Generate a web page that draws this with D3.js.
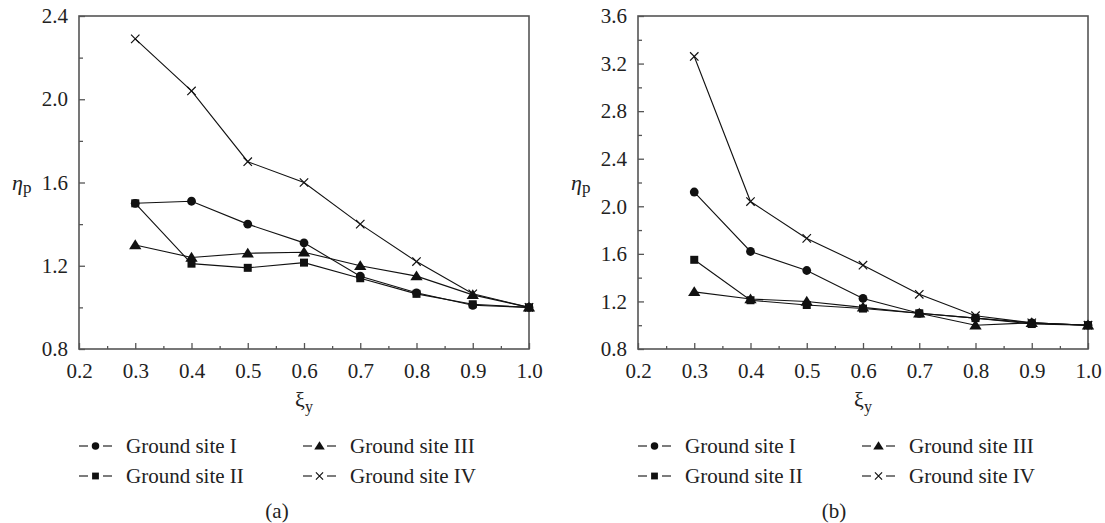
<!DOCTYPE html>
<html><head><meta charset="utf-8">
<script src="https://cdn.jsdelivr.net/npm/d3@7"></script>
<style>
body{margin:0;background:#fff}
svg{display:block}
svg text{font-family:"Liberation Serif","DejaVu Serif",serif !important;fill:#222}
</style>
</head><body>
<svg id="chart" width="1105" height="523"></svg>
<script>
const xValues = [0.3,0.4,0.5,0.6,0.7,0.8,0.9,1.0];
const seriesNames = ["Ground site I","Ground site II","Ground site III","Ground site IV"];
const seriesSymbols = ["circle","square","triangle","cross"];
// panel (a)
const aSiteI   = [1.50,1.51,1.40,1.31,1.15,1.07,1.01,1.00];
const aSiteII  = [1.50,1.21,1.19,1.215,1.14,1.065,1.015,1.00];
const aSiteIII = [1.30,1.24,1.26,1.265,1.20,1.15,1.06,1.00];
const aSiteIV  = [2.29,2.04,1.70,1.60,1.40,1.22,1.065,1.00];
// panel (b)
const bSiteI   = [2.12,1.62,1.46,1.225,1.10,1.06,1.02,1.00];
const bSiteII  = [1.55,1.21,1.17,1.14,1.10,1.06,1.01,1.00];
const bSiteIII = [1.28,1.22,1.20,1.15,1.10,1.00,1.02,1.00];
const bSiteIV  = [3.26,2.04,1.73,1.505,1.26,1.08,1.02,1.00];
const xTicks = [0.2,0.3,0.4,0.5,0.6,0.7,0.8,0.9,1.0];
const aYTicks = [0.8,1.2,1.6,2.0,2.4];
const bYTicks = [0.8,1.2,1.6,2.0,2.4,2.8,3.2,3.6];
const panelLabels = ["(a)","(b)"];

const svg = d3.select("#chart");
const frameColor = "#555";

const panels = [
  {left:79, right:529, top:16, bottom:349, yDomain:[0.8,2.4], yTicks:aYTicks, series:[aSiteI,aSiteII,aSiteIII,aSiteIV], label:panelLabels[0], labelX:277},
  {left:638, right:1088, top:16, bottom:349, yDomain:[0.8,3.6], yTicks:bYTicks, series:[bSiteI,bSiteII,bSiteIII,bSiteIV], label:panelLabels[1], labelX:834}
];

function drawMarker(g, type, cx, cy, s) {
  if (type === "circle") {
    g.append("circle").attr("cx",cx).attr("cy",cy).attr("r",4.4*s).attr("fill","#111");
  } else if (type === "square") {
    const h = 4*s;
    g.append("rect").attr("x",cx-h).attr("y",cy-h).attr("width",2*h).attr("height",2*h).attr("fill","#111");
  } else if (type === "triangle") {
    const h = 5.6*s;
    g.append("path").attr("d",`M${cx},${cy-h}L${cx+h*1.1},${cy+h*0.75}L${cx-h*1.1},${cy+h*0.75}Z`).attr("fill","#111");
  } else {
    const h = 4.2*s;
    g.append("path").attr("d",`M${cx-h},${cy-h}L${cx+h},${cy+h}M${cx-h},${cy+h}L${cx+h},${cy-h}`)
      .attr("stroke","#111").attr("stroke-width",1.2).attr("fill","none");
  }
}

panels.forEach(p => {
  const g = svg.append("g");
  const x = d3.scaleLinear().domain([0.2,1.0]).range([p.left,p.right]);
  const y = d3.scaleLinear().domain(p.yDomain).range([p.bottom,p.top]);

  const xMinor = d3.range(0.25,1.0,0.1);
  const yMinor = d3.range(p.yDomain[0]+0.2, p.yDomain[1], 0.4);

  const xAxis = g.append("g").attr("transform",`translate(0,${p.bottom})`)
    .call(d3.axisBottom(x).tickValues(xTicks).tickFormat(d3.format(".1f")).tickSize(-6).tickPadding(14));
  xAxis.select(".domain").remove();
  xAxis.selectAll(".tick line").attr("stroke",frameColor).attr("stroke-width",1.3);
  xAxis.selectAll("text").attr("font-size",21);
  g.append("g").attr("transform",`translate(0,${p.bottom})`)
    .call(d3.axisBottom(x).tickValues(xMinor).tickFormat("").tickSize(-3))
    .call(a=>{a.select(".domain").remove(); a.selectAll("line").attr("stroke",frameColor).attr("stroke-width",1.3);});

  const yAxis = g.append("g").attr("transform",`translate(${p.left},0)`)
    .call(d3.axisLeft(y).tickValues(p.yTicks).tickFormat(d3.format(".1f")).tickSize(-6).tickPadding(11));
  yAxis.select(".domain").remove();
  yAxis.selectAll(".tick line").attr("stroke",frameColor).attr("stroke-width",1.3);
  yAxis.selectAll("text").attr("font-size",21);
  g.append("g").attr("transform",`translate(${p.left},0)`)
    .call(d3.axisLeft(y).tickValues(yMinor).tickFormat("").tickSize(-4))
    .call(a=>{a.select(".domain").remove(); a.selectAll("line").attr("stroke",frameColor).attr("stroke-width",1.3);});

  g.append("rect").attr("x",p.left).attr("y",p.top).attr("width",p.right-p.left).attr("height",p.bottom-p.top)
    .attr("fill","none").attr("stroke",frameColor).attr("stroke-width",1.6);

  const line = d3.line().x((d,i)=>x(xValues[i])).y(d=>y(d));
  p.series.forEach((vals,si) => {
    g.append("path").datum(vals).attr("d",line).attr("fill","none").attr("stroke","#111").attr("stroke-width",1.1);
  });
  p.series.forEach((vals,si) => {
    vals.forEach((v,i) => drawMarker(g, seriesSymbols[si], x(xValues[i]), y(v), 1));
  });

  const cx = (p.left+p.right)/2;
  const xt = g.append("text").attr("x",cx).attr("y",p.bottom+58).attr("text-anchor","middle")
    .attr("font-size",22);
  xt.append("tspan").text("ξ");
  xt.append("tspan").attr("dy",5).attr("font-size",16).text("y");

  const yt = g.append("text").attr("x",p.left-67).attr("y",190)
    .attr("font-size",22);
  yt.append("tspan").attr("font-style","italic").text("η");
  yt.append("tspan").attr("dy",3).attr("font-size",17).text("p");

  const legPos = [[0,0],[0,1],[1,0],[1,1]];
  seriesNames.forEach((name,si) => {
    const lx = p.left + legPos[si][0]*224;
    const ly = 446 + legPos[si][1]*30;
    g.append("line").attr("x1",lx).attr("x2",lx+9).attr("y1",ly).attr("y2",ly).attr("stroke","#111").attr("stroke-width",1.1);
    g.append("line").attr("x1",lx+24).attr("x2",lx+33).attr("y1",ly).attr("y2",ly).attr("stroke","#111").attr("stroke-width",1.1);
    drawMarker(g, seriesSymbols[si], lx+16.5, ly, 0.85);
    g.append("text").attr("x",lx+47).attr("y",ly+7).attr("font-size",21).text(name);
  });

  g.append("text").attr("x",p.labelX).attr("y",518).attr("text-anchor","middle")
    .attr("font-size",21).text(p.label);
});
</script>
</body></html>
